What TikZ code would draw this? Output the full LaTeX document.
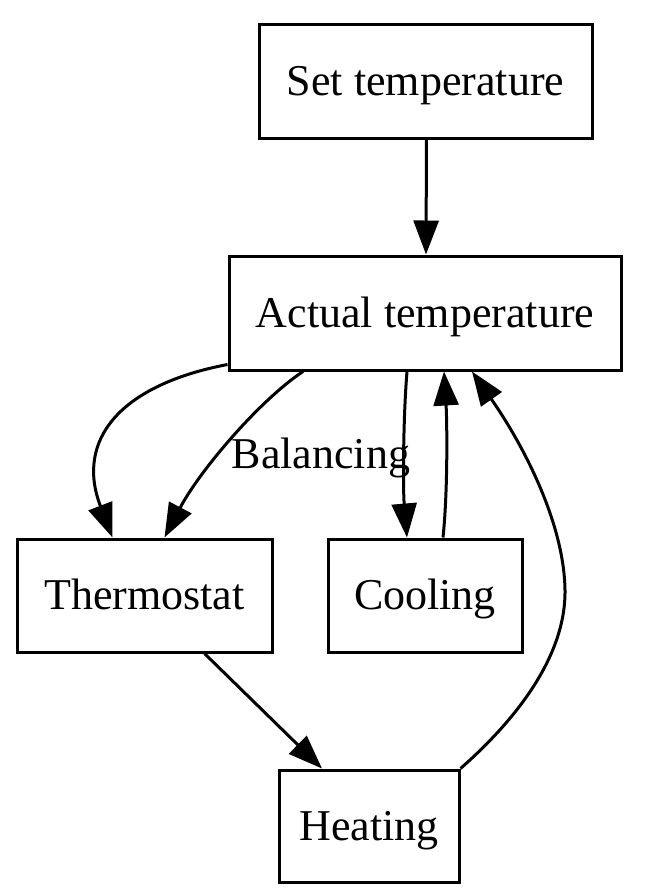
\documentclass[tikz,border=0pt]{standalone}
\usepackage{fontspec}
\setmainfont{Liberation Serif}
\usetikzlibrary{arrows.meta}
\begin{document}
\begin{tikzpicture}[x=0.5pt,y=-0.5pt,
  box/.style={draw,line width=1.5pt,inner sep=0pt,text height=15pt,text depth=1pt,font=\fontsize{22}{26}\selectfont},
  lbl/.style={inner sep=0pt,text height=15pt,text depth=1pt,font=\fontsize{22}{26}\selectfont},
  edge/.style={line width=1.5pt,-{Triangle[length=17pt,width=12.5pt]}}]
\useasboundingbox (0,0) rectangle (646,896);
\node[box,minimum width=166.5pt,minimum height=57pt] (set) at (425.5,81) {Set temperature};
\node[box,minimum width=196pt,minimum height=57pt] (act) at (425,313) {Actual temperature};
\node[box,minimum width=127.5pt,minimum height=56.5pt] (thermo) at (144.5,595.5) {Thermostat};
\node[box,minimum width=97pt,minimum height=56.5pt] (cool) at (425,595.5) {Cooling};
\node[box,minimum width=90pt,minimum height=56pt] (heat) at (369,826) {Heating};
\node[lbl] (bal) at (321,454) {Balancing};
% Set -> Actual
\draw[edge] ([xshift=0.5pt]set.south) -- ([xshift=0.5pt]act.north);
% Actual -> Thermostat (left)
\draw[edge] ([yshift=3.5pt]act.south west) .. controls (120,385) and (75,440) .. ([xshift=-16pt]thermo.north);
% Actual -> Thermostat (Balancing)
\draw[edge] ([xshift=-61pt]act.south) .. controls (260,400) and (200,470) .. ([xshift=10pt]thermo.north);
% Actual -> Cooling
\draw[edge] ([xshift=-9pt]act.south) .. controls (403,420) and (403,490) .. ([xshift=-9pt]cool.north);
% Cooling -> Actual
\draw[edge] ([xshift=9pt]cool.north) .. controls (448,490) and (447,420) .. ([xshift=9.5pt]act.south);
% Heating -> Actual
\coordinate (hb) at (565,590);
\draw[edge] (heat.north east) .. controls (510,725) and (566,660) .. (hb)
  .. controls (564,520) and (520,440) .. ([xshift=23.5pt]act.south);
% Thermostat -> Heating
\draw[edge] ([xshift=30pt]thermo.south) -- ([xshift=-23.5pt]heat.north);
\end{tikzpicture}
\end{document}
